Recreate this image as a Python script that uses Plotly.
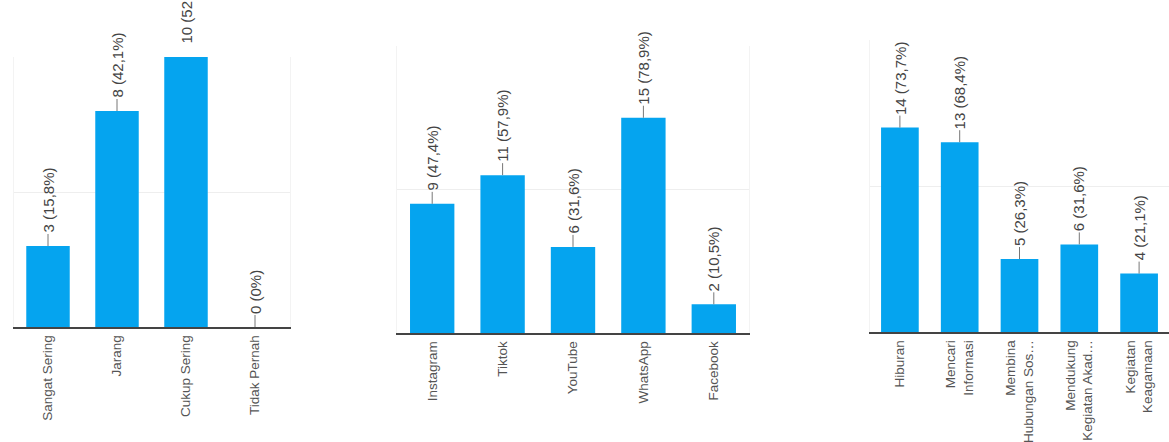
import plotly.graph_objects as go

W, H = 1169, 442

# ---- data ----
freq_cats = ["Sangat Sering", "Jarang", "Cukup Sering", "Tidak Pernah"]
freq_vals = [3, 8, 10, 0]
freq_pct = ["15,8%", "42,1%", "52,6%", "0%"]

app_cats = ["Instagram", "Tiktok", "YouTube", "WhatsApp", "Facebook"]
app_vals = [9, 11, 6, 15, 2]
app_pct = ["47,4%", "57,9%", "31,6%", "78,9%", "10,5%"]

use_cats = ["Hiburan", "Mencari<br>Informasi", "Membina<br>Hubungan Sos…",
            "Mendukung<br>Kegiatan Akad…", "Kegiatan<br>Keagamaan"]
use_vals = [14, 13, 5, 6, 4]
use_pct = ["73,7%", "68,4%", "26,3%", "31,6%", "21,1%"]

# ---- layout geometry (pixels) ----
panels = [
    dict(cats=freq_cats, vals=freq_vals, pct=freq_pct, x0=13.5, x1=289.5, base=327, top=57, ymax=10, dtick=5),
    dict(cats=app_cats, vals=app_vals, pct=app_pct, x0=397, x1=749, base=333, top=46, ymax=20, dtick=10),
    dict(cats=use_cats, vals=use_vals, pct=use_pct, x0=870, x1=1169, base=332, top=40, ymax=20, dtick=10),
]

BAR = "#05a4ef"
FONT = "Arial, Liberation Sans, sans-serif"
LEADER_PX = 12

fig = go.Figure()
annotations = []
for i, p in enumerate(panels):
    n = "" if i == 0 else str(i + 1)
    px_per_unit = (p["base"] - p["top"]) / p["ymax"]
    lead = LEADER_PX / px_per_unit
    fig.add_trace(go.Bar(
        x=p["cats"], y=p["vals"], xaxis="x" + n, yaxis="y" + n,
        marker=dict(color=BAR, line=dict(width=0)),
        error_y=dict(type="data", symmetric=False, array=[lead] * len(p["vals"]),
                     arrayminus=[0] * len(p["vals"]), width=0, thickness=1, color="#777777"),
        hoverinfo="skip", showlegend=False,
    ))
    for c, v, pc in zip(p["cats"], p["vals"], p["pct"]):
        annotations.append(dict(
            x=c, y=v, xref="x" + n, yref="y" + n, text=f"{v} ({pc})",
            showarrow=False, textangle=-90, xanchor="center", yanchor="bottom",
            yshift=LEADER_PX - 1, font=dict(family=FONT, size=15, color="#444444"),
        ))
    xd = [p["x0"] / W, min(1.0, p["x1"] / W)]
    yd = [(H - p["base"]) / H, (H - p["top"]) / H]
    fig.layout["xaxis" + n] = dict(
        domain=xd, anchor="y" + n, tickangle=-90, showgrid=False,
        showline=True, linecolor="#444444", linewidth=1.5,
        ticks="", ticklabelstandoff=1, automargin=False,
        tickfont=dict(family=FONT, size=13.5, color="#555555"),
        fixedrange=True,
    )
    fig.layout["yaxis" + n] = dict(
        domain=yd, anchor="x" + n, range=[0, p["ymax"]], dtick=p["dtick"],
        showticklabels=False, showgrid=True, gridcolor="#eeeeee", gridwidth=1,
        zeroline=False, showline=True, mirror=True, linecolor="#f3f3f3", linewidth=1,
        automargin=False, fixedrange=True,
    )

fig.update_layout(
    width=W, height=H, margin=dict(l=0, r=0, t=0, b=0, pad=0, autoexpand=False),
    paper_bgcolor="white", plot_bgcolor="white",
    bargap=0.37, annotations=annotations,
    font=dict(family=FONT),
)

fig.write_html("out.html", config={"displayModeBar": False})
